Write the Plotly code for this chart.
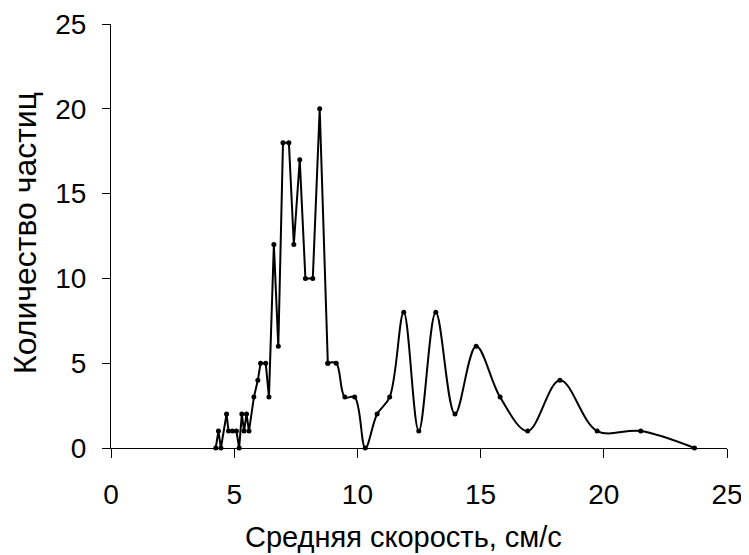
import plotly.graph_objects as go

speed = [4.25, 4.36, 4.46, 4.69, 4.77, 4.93, 5.09, 5.20, 5.31, 5.40, 5.50, 5.60,
         5.80, 5.96, 6.07, 6.28, 6.41, 6.61, 6.79, 6.98, 7.22, 7.42, 7.66, 7.89,
         8.19, 8.47, 8.80, 9.14, 9.49, 9.89, 10.32, 10.80, 11.31, 11.88, 12.49,
         13.18, 13.96, 14.82, 15.79, 16.91, 18.22, 19.73, 21.50, 23.68]
count = [0, 1, 0, 2, 1, 1, 1, 0, 2, 1, 2, 1,
         3, 4, 5, 5, 3, 12, 6, 18, 18, 12, 17, 10,
         10, 20, 5, 5, 3, 3, 0, 2, 3, 8, 1,
         8, 2, 6, 3, 1, 4, 1, 1, 0]

x_ticks = [0, 5, 10, 15, 20, 25]
y_ticks = [0, 5, 10, 15, 20, 25]

split = speed.index(8.80)

fig = go.Figure()
fig.add_trace(go.Scatter(
    x=speed[:split + 1], y=count[:split + 1], mode="lines+markers",
    line=dict(color="black", width=2),
    marker=dict(color="black", size=5),
    showlegend=False, cliponaxis=False,
))
fig.add_trace(go.Scatter(
    x=speed[split:], y=count[split:], mode="lines+markers",
    line=dict(color="black", width=2, shape="spline", smoothing=1.0),
    marker=dict(color="black", size=5),
    showlegend=False, cliponaxis=False,
))

font = dict(family="Liberation Sans, Arial, sans-serif", size=28, color="black")
xtitle_font = dict(font, size=29)
ytitle_font = dict(font, size=32)
fig.update_layout(
    width=741, height=547,
    margin=dict(l=103, r=22, t=16, b=107),
    paper_bgcolor="white", plot_bgcolor="white",
    font=font,
    xaxis=dict(range=[0, 25], tickvals=x_ticks, showgrid=False, zeroline=False,
               showline=True, linecolor="black", linewidth=1,
               ticks="outside", ticklen=9, tickcolor="black",
               ticklabelstandoff=12, automargin=False),
    yaxis=dict(range=[0, 25], tickvals=y_ticks, showgrid=False, zeroline=False,
               showline=True, linecolor="black", linewidth=1,
               ticks="outside", ticklen=8, tickcolor="black",
               ticklabelstandoff=10, automargin=False),
    annotations=[
        dict(text="Средняя скорость, см/с", xref="paper", yref="paper",
             x=(403 - 111) / 616, y=0, yshift=-89, xanchor="center",
             yanchor="middle", showarrow=False, font=xtitle_font),
        dict(text="Количество частиц", xref="paper", yref="paper",
             x=0, xshift=-86, y=(448 - 233) / 424, xanchor="center",
             yanchor="middle", textangle=-90, showarrow=False, font=ytitle_font),
    ],
)
fig.write_html("out.html")
